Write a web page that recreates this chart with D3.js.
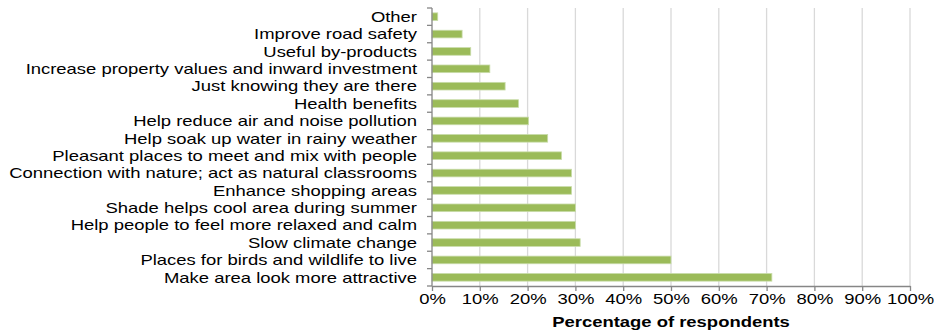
<!DOCTYPE html>
<html><head><meta charset="utf-8">
<script src="https://cdn.jsdelivr.net/npm/d3@7"></script>
<style>body{margin:0;background:#fff;} text{font-family:"Liberation Sans",Arial,sans-serif;fill:#000;}</style>
</head><body>
<svg id="c" width="934" height="333"></svg>
<script>
const categories = ["Other","Improve road safety","Useful by-products","Increase property values and inward investment","Just knowing they are there","Health benefits","Help reduce air and noise pollution","Help soak up water in rainy weather","Pleasant places to meet and mix with people","Connection with nature; act as natural classrooms","Enhance shopping areas","Shade helps cool area during summer","Help people to feel more relaxed and calm","Slow climate change","Places for birds and wildlife to live","Make area look more attractive"];
const values = [1.2,6.3,8.1,12.1,15.3,18.1,20.2,24.2,27.1,29.2,29.2,30,30,31,50,71.1];
const xTicks = [0,10,20,30,40,50,60,70,80,90,100];
const xTitle = "Percentage of respondents";

const SX = 1.23;
const svg = d3.select("#c");
const m = {left:432, right:910, top:8, bottom:286};
const x = d3.scaleLinear().domain([0,100]).range([m.left,m.right]);
const y = d3.scaleBand().domain(categories).range([m.top,m.bottom]).paddingInner(0.56).paddingOuter(0.28);

// gridlines
svg.append("g").selectAll("line").data(xTicks.filter(d=>d>0)).join("line")
  .attr("x1",d=>x(d)).attr("x2",d=>x(d)).attr("y1",m.top).attr("y2",m.bottom)
  .attr("stroke","#d9d9d9").attr("stroke-width",1.3);

// bars
svg.append("g").selectAll("rect").data(categories).join("rect")
  .attr("x",x(0)).attr("y",d=>y(d)).attr("width",(d,i)=>x(values[i])-x(0)).attr("height",y.bandwidth())
  .attr("fill","#9bbb59").attr("stroke","#c9dcaa").attr("stroke-width",0.8);

// x axis
const xa = svg.append("g").attr("transform",`translate(0,${m.bottom})`)
  .call(d3.axisBottom(x).tickValues(xTicks).tickFormat(d=>d+"%").tickSize(5).tickSizeOuter(0));
xa.select(".domain").attr("stroke","#868686").attr("stroke-width",1.3);
xa.selectAll(".tick line").attr("stroke","#868686").attr("stroke-width",1.3);
xa.selectAll("text").attr("font-size",15).attr("dy","0.3em").attr("y",14).attr("fill","#000")
  .attr("transform",`scale(${SX},1)`);

// y axis
const ya = svg.append("g").attr("transform",`translate(${m.left},0)`);
ya.append("line").attr("x1",0).attr("x2",0).attr("y1",m.top).attr("y2",m.bottom).attr("stroke","#868686").attr("stroke-width",1.3);
const step = (m.bottom-m.top)/categories.length;
ya.selectAll("line.t").data(d3.range(categories.length+1)).join("line").attr("class","t")
  .attr("x1",-5).attr("x2",0).attr("y1",d=>m.top+d*step).attr("y2",d=>m.top+d*step)
  .attr("stroke","#868686").attr("stroke-width",1.3);
ya.selectAll("text").data(categories).join("text")
  .attr("transform",d=>`translate(-15,${y(d)+y.bandwidth()/2}) scale(${SX},1)`).attr("dy","0.35em")
  .attr("text-anchor","end").attr("font-size",15).text(d=>d);

svg.append("text").attr("transform",`translate(${(m.left+m.right)/2},327) scale(${SX},1)`).attr("text-anchor","middle")
  .attr("font-size",15).attr("font-weight","bold").text(xTitle);
</script>
</body></html>
